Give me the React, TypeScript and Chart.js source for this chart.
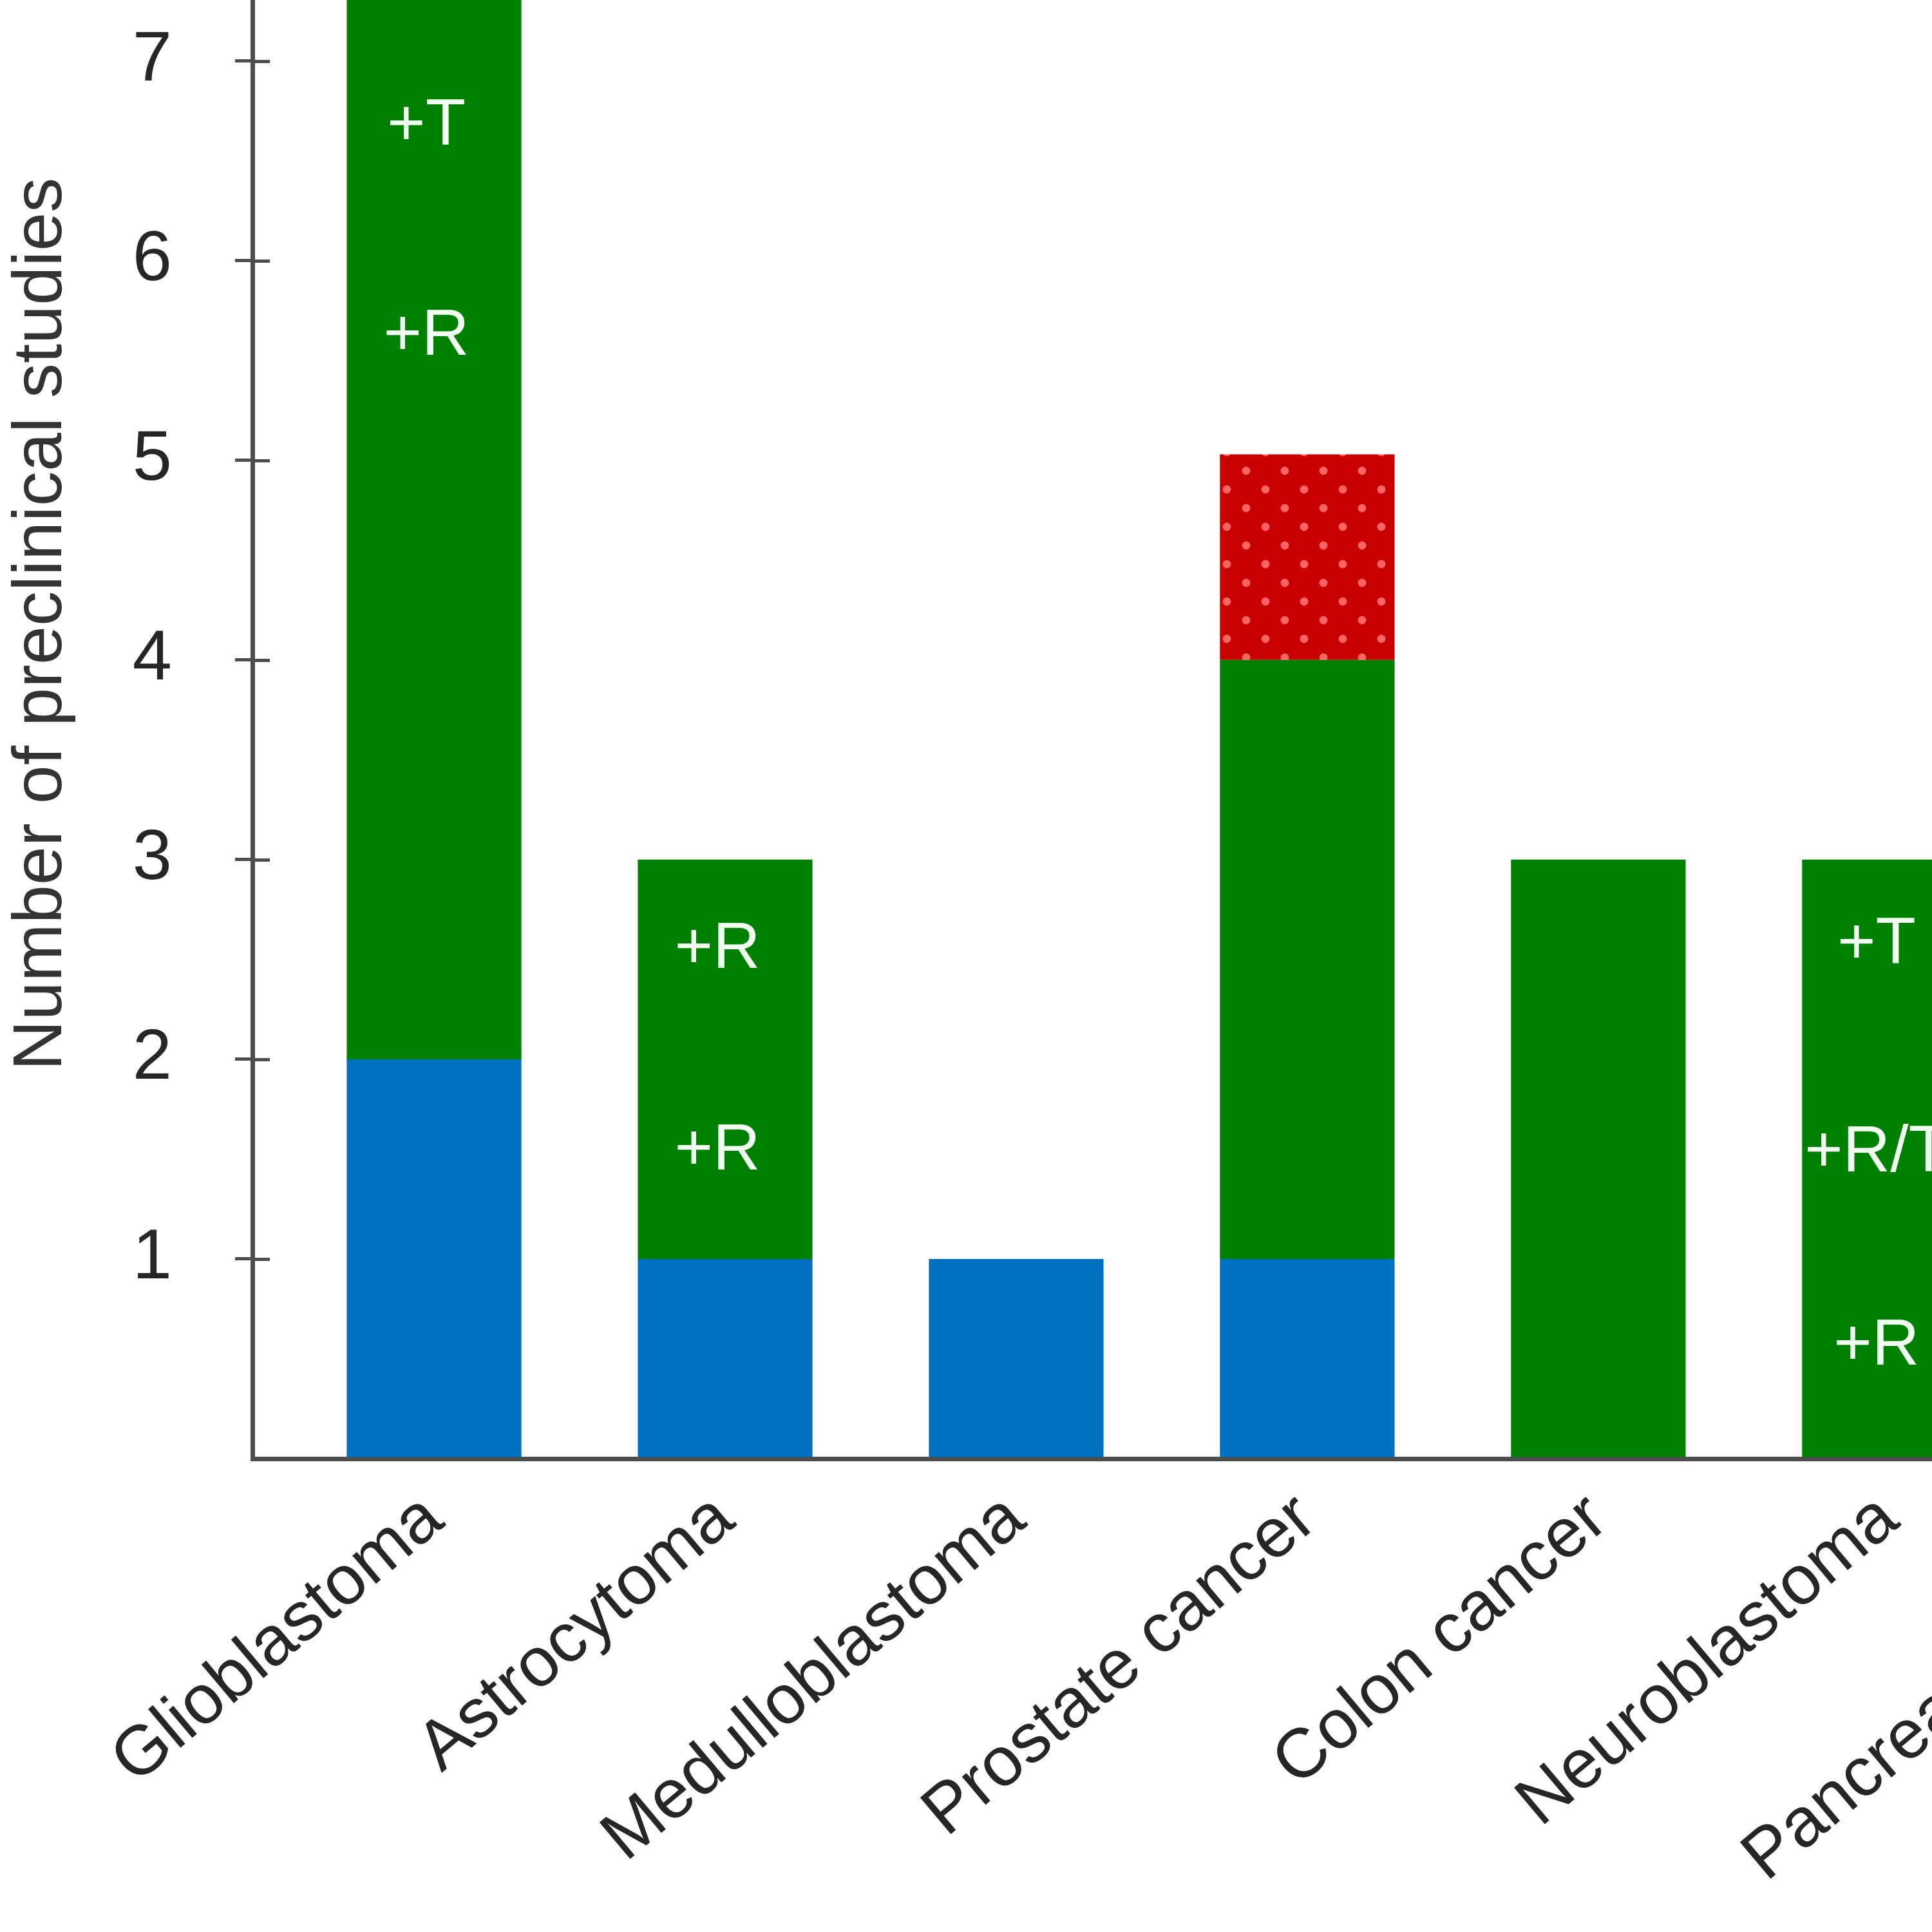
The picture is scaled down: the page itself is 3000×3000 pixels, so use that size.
import React, { useEffect, useRef } from 'react';
import { Chart, registerables } from 'chart.js';

Chart.register(...registerables);

// ---- data ----
const categories = [
  'Glioblastoma',
  'Astrocytoma',
  'Medulloblastoma',
  'Prostate cancer',
  'Colon cancer',
  'Neuroblastoma',
  'Pancreatic cancer',
];
const blueValues = [2, 1, 1, 1, 0, 0, 0];
const greenValues = [6, 2, 0, 3, 3, 3, 2];
const redValues = [0, 0, 0, 1.03, 0, 0, 0];

// text labels inside the bars
const labelCategory = [0, 0, 1, 1, 5, 5, 5];
const labelY = [5.62, 6.67, 1.54, 2.55, 0.56, 1.53, 2.57];
const labelText = ['+R', '+T', '+R', '+R', '+R', '+R/T', '+T'];

const yTitle = 'Number of preclinical studies';

// ---- styles ----
const FONT = '"Liberation Sans", Arial, sans-serif';
const AXIS = '#4d4d4d';
const BLUE = '#0070c0';
const GREEN = '#008000';
const RED = '#c80000';
const DOT = '#ff6464';
const TEXT = '#262626';
const INBAR = '#f0fff0';

const CANVAS_W = 3657;
const CANVAS_H = 3292;
const CANVAS_TOP = -327;

function makeDots(): CanvasPattern | string {
  const c = document.createElement('canvas');
  c.width = 60;
  c.height = 58;
  const g = c.getContext('2d');
  if (!g) return RED;
  g.fillStyle = RED;
  g.fillRect(0, 0, 60, 58);
  g.fillStyle = DOT;
  const dots = [
    [15, 14],
    [45, 43],
  ];
  dots.forEach(([x, y]) => {
    g.beginPath();
    g.arc(x, y, 6.5, 0, Math.PI * 2);
    g.fill();
  });
  const p = g.createPattern(c, 'repeat');
  return p || RED;
}

const overlay = {
  id: 'overlay',
  afterDatasetsDraw(chart: any) {
    const { ctx, chartArea, scales } = chart;
    const x = scales.x;
    const y = scales.y;
    ctx.save();
    ctx.strokeStyle = AXIS;
    ctx.lineWidth = 5;
    y.ticks.forEach((t: any) => {
      if (t.value === 0) return;
      const py = Math.round(y.getPixelForValue(t.value)) + 0.5;
      ctx.beginPath();
      ctx.moveTo(chartArea.left, py);
      ctx.lineTo(chartArea.left + 27, py);
      ctx.stroke();
    });
    ctx.fillStyle = INBAR;
    ctx.font = `102px ${FONT}`;
    ctx.textAlign = 'center';
    ctx.textBaseline = 'middle';
    labelText.forEach((t, i) => {
      const dx = labelCategory[i] === 5 ? -20 : -12;
      ctx.fillText(t, x.getPixelForValue(labelCategory[i]) + dx, y.getPixelForValue(labelY[i]));
    });
    ctx.restore();
  },
};

export default function App() {
  const ref = useRef<HTMLCanvasElement | null>(null);

  useEffect(() => {
    if (!ref.current) return;
    const toXY = (arr: number[]) => arr.map((v, i) => ({ x: i, y: v }));
    const chart = new Chart(ref.current, {
      type: 'bar',
      data: {
        datasets: [
          { label: 'Blue', data: toXY(blueValues), backgroundColor: BLUE, borderWidth: 0 },
          { label: 'Green', data: toXY(greenValues), backgroundColor: GREEN, borderWidth: 0 },
          { label: 'Red', data: toXY(redValues), backgroundColor: makeDots() as any, borderWidth: 0 },
        ],
      } as any,
      options: {
        animation: false,
        responsive: false,
        devicePixelRatio: 1,
        layout: { padding: 0 },
        datasets: { bar: { categoryPercentage: 1, barPercentage: 0.6 } },
        plugins: { legend: { display: false }, tooltip: { enabled: false } },
        scales: {
          x: {
            type: 'linear',
            stacked: true,
            min: -0.624,
            max: 6.6,
            offset: false,
            grid: { display: true, drawOnChartArea: false, drawTicks: false },
            border: { display: true, color: AXIS, width: 7 },
            ticks: {
              stepSize: 1,
              autoSkip: false,
              includeBounds: false,
              minRotation: 40,
              maxRotation: 40,
              padding: 30,
              color: TEXT,
              font: { family: FONT, size: 108 },
              callback: (v: any) => categories[v as number] ?? '',
            },
            afterFit: (s: any) => {
              s.height = 700;
              s.paddingLeft = 0;
              s.paddingRight = 0;
            },
          },
          y: {
            type: 'linear',
            stacked: true,
            min: 0,
            max: 8.36,
            grid: {
              drawOnChartArea: false,
              drawTicks: true,
              tickLength: 27,
              lineWidth: 5,
              tickColor: (c: any) => (c.tick && c.tick.value === 0 ? 'rgba(0,0,0,0)' : AXIS),
            },
            border: { display: true, color: AXIS, width: 7 },
            ticks: {
              stepSize: 1,
              includeBounds: false,
              padding: 98,
              color: TEXT,
              font: { family: FONT, size: 110 },
              callback: (v: any) => (v === 0 ? '' : String(v)),
            },
            title: {
              display: true,
              text: yTitle,
              color: '#333333',
              font: { family: FONT, size: 108 },
              padding: { top: 0, bottom: 0 },
            },
            afterFit: (s: any) => {
              s.width = 392;
              s.paddingTop = 0;
              s.paddingBottom = 0;
            },
          },
        },
      } as any,
      plugins: [overlay],
    });
    return () => chart.destroy();
  }, []);

  return (
    <div
      style={{
        position: 'fixed',
        left: 0,
        top: 0,
        width: 3000,
        height: 3000,
        overflow: 'hidden',
        background: '#ffffff',
      }}
    >
      <canvas
        ref={ref}
        width={CANVAS_W}
        height={CANVAS_H}
        style={{
          position: 'absolute',
          left: 0,
          top: CANVAS_TOP,
          width: CANVAS_W,
          height: CANVAS_H,
        }}
      />
    </div>
  );
}
